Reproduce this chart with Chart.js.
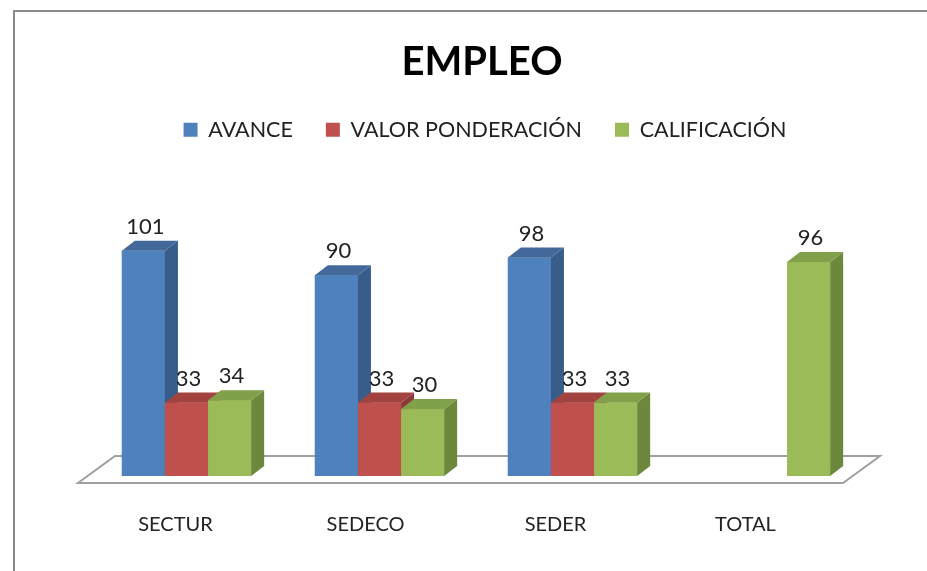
<!DOCTYPE html>
<html>
<head>
<meta charset="utf-8">
<script src="https://cdn.jsdelivr.net/npm/chart.js@4.4.1/dist/chart.umd.min.js"></script>
<style>
  html, body { margin: 0; padding: 0; background: #ffffff; }
  #wrap { width: 927px; height: 571px; }
</style>
</head>
<body>
<div id="wrap"><canvas id="grafico" width="927" height="571"></canvas></div>
<script>
const categorias = ["SECTUR", "SEDECO", "SEDER", "TOTAL"];
const avance = [101, 90, 98, null];
const valorPonderacion = [33, 33, 33, null];
const calificacion = [34, 30, 33, 96];

const frente = ["#4F81BD", "#C0504D", "#9BBB59"];
const lado = ["#385D8A", "#8C3A38", "#6D883C"];
const tapa = ["#42699A", "#A2433F", "#80A04A"];
const fonte = "Lato, 'DejaVu Sans', sans-serif";

// profundidade das barras 3D
const dx = 13, dy = -10;

const moldura = {
  id: "moldura",
  afterLayout(chart) {
    // titulo e legenda um pouco mais a direita, como no original
    chart.titleBlock.left += 12;
    chart.legend.left += 18;
  },
  beforeDraw(chart) {
    const ctx = chart.ctx;
    ctx.save();
    ctx.fillStyle = "#ffffff";
    ctx.fillRect(0, 0, chart.width, chart.height);
    ctx.strokeStyle = "#8a8a8a";
    ctx.lineWidth = 2;
    ctx.strokeRect(14, 11, chart.width + 20, chart.height + 20);
    ctx.restore();
  },
  beforeDatasetsDraw(chart) {
    const ctx = chart.ctx;
    const a = chart.chartArea;
    ctx.save();
    ctx.beginPath();
    ctx.moveTo(a.left - 12, a.bottom + 7);
    ctx.lineTo(a.right - 19, a.bottom + 7);
    ctx.lineTo(a.right + 18, a.bottom - 20);
    ctx.lineTo(a.left + 25, a.bottom - 20);
    ctx.closePath();
    ctx.fillStyle = "#ffffff";
    ctx.fill();
    ctx.strokeStyle = "#a0a0a0";
    ctx.lineWidth = 2;
    ctx.stroke();
    ctx.restore();
  }
};

// redesenha cada barra da esquerda para a direita com frente, lado e tampa
const barras3d = {
  id: "barras3d",
  afterDatasetsDraw(chart) {
    const ctx = chart.ctx;
    const n = chart.data.datasets.length;
    ctx.save();
    categorias.forEach((c, j) => {
      for (let i = 0; i < n; i++) {
        if (chart.data.datasets[i].data[j] === null) continue;
        const el = chart.getDatasetMeta(i).data[j];
        const p = el.getProps(["x", "y", "base", "width"], true);
        const esq = p.x - p.width / 2, dir = p.x + p.width / 2;
        ctx.fillStyle = frente[i];
        ctx.fillRect(esq, p.y, p.width, p.base - p.y);
        ctx.fillStyle = lado[i];
        ctx.beginPath();
        ctx.moveTo(dir, p.y);
        ctx.lineTo(dir + dx, p.y + dy);
        ctx.lineTo(dir + dx, p.base + dy);
        ctx.lineTo(dir, p.base);
        ctx.closePath();
        ctx.fill();
        ctx.fillStyle = tapa[i];
        ctx.beginPath();
        ctx.moveTo(esq, p.y);
        ctx.lineTo(esq + dx, p.y + dy);
        ctx.lineTo(dir + dx, p.y + dy);
        ctx.lineTo(dir, p.y);
        ctx.closePath();
        ctx.fill();
      }
    });

    ctx.font = "22px " + fonte;
    ctx.fillStyle = "#222222";
    ctx.textAlign = "center";
    ctx.textBaseline = "middle";
    chart.data.datasets.forEach((ds, i) => {
      chart.getDatasetMeta(i).data.forEach((el, j) => {
        if (ds.data[j] === null) return;
        ctx.fillText(String(ds.data[j]), el.x + 2, el.y - 24);
      });
    });
    // rotulos das categorias
    ctx.font = "20px " + fonte;
    const x = chart.scales.x;
    categorias.forEach((c, j) => {
      ctx.fillText(c, x.getPixelForValue(j) - 11 - 3 * j, 525);
    });
    ctx.restore();
  }
};

new Chart(document.getElementById("grafico"), {
  type: "bar",
  data: {
    labels: categorias,
    datasets: [
      { label: "AVANCE", data: avance, backgroundColor: frente[0] },
      { label: "VALOR PONDERACIÓN", data: valorPonderacion, backgroundColor: frente[1] },
      { label: "CALIFICACIÓN", data: calificacion, backgroundColor: frente[2] }
    ]
  },
  options: {
    responsive: false,
    animation: false,
    layout: {
      padding: { left: 90, right: 65, top: 0, bottom: 95 }
    },
    datasets: {
      bar: { barPercentage: 1, categoryPercentage: 0.67 }
    },
    plugins: {
      tooltip: { enabled: false },
      title: {
        display: true,
        text: "EMPLEO",
        color: "#000000",
        padding: { top: 38, bottom: 0 },
        font: { size: 40, weight: "bold", family: fonte, lineHeight: 1.2 }
      },
      legend: {
        position: "top",
        labels: {
          color: "#222222",
          boxWidth: 14,
          boxHeight: 14,
          padding: 33,
          font: { size: 21.5, family: fonte }
        }
      }
    },
    scales: {
      x: { display: false },
      y: { display: false, min: 0, max: 146 }
    }
  },
  plugins: [moldura, barras3d]
});
</script>
</body>
</html>
